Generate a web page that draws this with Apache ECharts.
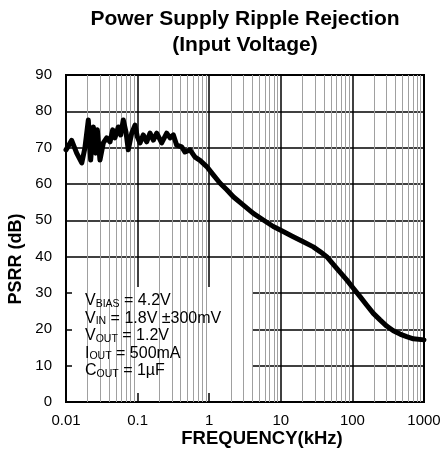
<!DOCTYPE html>
<html>
<head>
<meta charset="utf-8">
<script src="https://cdn.jsdelivr.net/npm/echarts@6/dist/echarts.min.js"></script>
<style>
  html, body { margin: 0; padding: 0; background: #fff; }
  #psrrChart { width: 444px; height: 459px; }
</style>
</head>
<body>
<div id="psrrChart"></div>
<script>
// Values
var freqKHz = [0.01, 0.012, 0.0141, 0.0166, 0.0184, 0.0205, 0.0221, 0.0241, 0.026, 0.0274,
    0.0298, 0.0332, 0.037, 0.0412, 0.0449, 0.0483, 0.0537, 0.058, 0.0631, 0.0688,
    0.0741, 0.0827, 0.092, 0.0991, 0.108, 0.12, 0.134, 0.149, 0.166, 0.185,
    0.217, 0.255, 0.284, 0.316, 0.351, 0.413, 0.459, 0.54, 0.634, 0.744,
    0.923, 1.14, 1.42, 1.76, 2.17, 3.0, 4.13, 5.7, 7.86, 10.8,
    14.9, 20.6, 28.4, 35.3, 43.8, 60.4, 83.3, 103, 128, 158,
    196, 243, 301, 373, 462, 573, 709, 1000];
var psrrDb = [69.4, 72, 68.5, 65.8, 70, 77.6, 66.6, 75.7, 68.5, 74.9,
    66.6, 71.3, 72.7, 71.6, 74.9, 72.7, 75.7, 73.5, 77.6, 74.3,
    69.4, 74, 76.2, 73, 71.3, 73.5, 71.6, 74, 72.1, 74,
    71.3, 74, 72.7, 73.5, 70.7, 70.2, 68.8, 69.4, 67.4, 66.5,
    64.8, 62.5, 60.2, 58.4, 56.5, 54.2, 51.9, 50.1, 48.3, 46.9,
    45.5, 44.1, 42.7, 41.4, 40, 36.8, 33.6, 31.3, 29, 26.7,
    24.4, 22.6, 20.9, 19.6, 18.7, 18, 17.4, 17.1];

var xTickLabels = ['0.01', '0.1', '1', '10', '100', '1000'];
var decades = [0.01, 0.1, 1, 10, 100];
var minorSteps = [2, 3, 4, 5, 6, 7, 8, 9];

var conditionLines = [
    ['V', 'BIAS', ' = 4.2V'],
    ['V', 'IN', ' = 1.8V \u00b1300mV'],
    ['V', 'OUT', ' = 1.2V'],
    ['I', 'OUT', ' = 500mA'],
    ['C', 'OUT', ' = 1\u00b5F']
];

var FONT = '"Liberation Sans", Arial, Helvetica, sans-serif';

var chartDom = document.getElementById('psrrChart');
var myChart = echarts.init(chartDom, null, { renderer: 'canvas' });

// light minor grid lines at 2..9 of each decade
var minorLines = [];
decades.forEach(function (d) {
    minorSteps.forEach(function (m) {
        minorLines.push({ xAxis: +(d * m).toPrecision(3) });
    });
});

var curve = freqKHz.map(function (f, i) { return [f, psrrDb[i]]; });

var conditionText = conditionLines.map(function (l) {
    return '{m|' + l[0] + '}{s|' + l[1] + '}{m|' + l[2] + '}';
}).join('\n');

var option = {
    animation: false,
    backgroundColor: '#fff',
    title: {
        text: 'Power Supply Ripple Rejection\n(Input Voltage)',
        left: 245,
        top: 6,
        padding: 0,
        textAlign: 'center',
        textStyle: {
            fontFamily: FONT,
            fontSize: 21,
            fontWeight: 'bold',
            color: '#000',
            lineHeight: 26
        }
    },
    grid: {
        left: 66,
        right: 20,
        top: 75,
        bottom: 57,
        show: true,
        borderColor: '#000',
        borderWidth: 2,
        outerBoundsMode: 'none',
        containLabel: false
    },
    xAxis: {
        type: 'log',
        logBase: 10,
        min: 0.01,
        max: 1000,
        axisLine: { show: true, lineStyle: { color: '#000', width: 2 } },
        axisTick: { show: false },
        axisLabel: {
            color: '#000',
            fontFamily: FONT,
            fontSize: 15,
            margin: 11,
            formatter: function (v, i) { return xTickLabels[i]; }
        },
        splitLine: { show: true, lineStyle: { color: '#000', width: 1.5 } }
    },
    yAxis: {
        type: 'value',
        min: 0,
        max: 90,
        interval: 10,
        axisLine: { show: true, lineStyle: { color: '#000', width: 2 } },
        axisTick: { show: false },
        axisLabel: {
            color: '#000',
            fontFamily: FONT,
            fontSize: 15,
            margin: 14
        },
        splitLine: { show: true, lineStyle: { color: '#000', width: 1.5 } }
    },
    series: [
        {
            name: 'minor',
            type: 'line',
            z: 1,
            silent: true,
            symbol: 'none',
            data: curve,
            lineStyle: { opacity: 0 },
            markLine: {
                silent: true,
                symbol: ['none', 'none'],
                label: { show: false },
                emphasis: { disabled: true },
                lineStyle: { type: 'solid', color: '#a0a0a0', width: 1 },
                data: minorLines
            }
        },
        {
            name: 'PSRR',
            type: 'line',
            z: 6,
            symbol: 'none',
            data: curve,
            lineStyle: { color: '#000', width: 5, join: 'round', cap: 'round' }
        }
    ],
    graphic: [
        {
            type: 'rect',
            z: 5,
            silent: true,
            shape: { x: 72, y: 287, width: 181, height: 106 },
            style: { fill: '#fff' }
        },
        {
            type: 'text',
            z: 7,
            x: 85,
            y: 292,
            silent: true,
            style: {
                text: conditionText,
                fill: '#000',
                font: '16px ' + FONT,
                verticalAlign: 'top',
                textVerticalAlign: 'top',
                rich: {
                    m: { fontFamily: FONT, fontSize: 16, lineHeight: 17.5, fill: '#000' },
                    s: { fontFamily: FONT, fontSize: 10.5, lineHeight: 9, verticalAlign: 'bottom', fill: '#000' }
                }
            }
        },
        {
            type: 'text',
            z: 7,
            x: 262,
            y: 439,
            silent: true,
            style: {
                text: 'FREQUENCY(kHz)',
                fill: '#000',
                font: 'bold 18.5px ' + FONT,
                align: 'center',
                textAlign: 'center',
                verticalAlign: 'middle',
                textVerticalAlign: 'middle'
            }
        },
        {
            type: 'text',
            z: 7,
            x: 16,
            y: 259,
            rotation: Math.PI / 2,
            silent: true,
            style: {
                text: 'PSRR (dB)',
                fill: '#000',
                font: 'bold 18px ' + FONT,
                align: 'center',
                textAlign: 'center',
                verticalAlign: 'middle',
                textVerticalAlign: 'middle'
            }
        }
    ]
};

myChart.setOption(option);
</script>
</body>
</html>
